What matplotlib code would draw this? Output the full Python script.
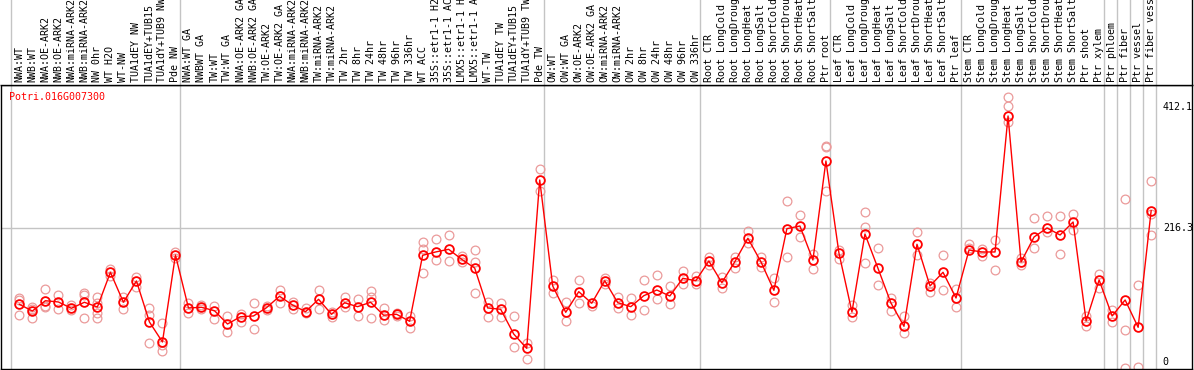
import matplotlib
matplotlib.use("Agg")
import matplotlib.pyplot as plt

gene = "Potri.016G007300"

labels = [
    "NWA:WT", "NWB:WT", "NWA:OE-ARK2", "NWB:OE-ARK2", "NWA:miRNA-ARK2", "NWB:miRNA-ARK2",
    "NW 0hr", "WT H2O", "WT-NW", "TUA1dEY NW", "TUA1dEY+TUB15", "TUA1dY+TUB9 NW", "Pde NW",
    "NWA:WT GA", "NWBWT GA", "TW:WT", "TW:WT GA", "NWA:OE-ARK2 GA", "NWB:OE-ARK2 GA",
    "TW:OE-ARK2", "TW:OE-ARK2 GA", "NWA:miRNA-ARK2", "NWB:miRNA-ARK2", "TW:miRNA-ARK2",
    "TW:miRNA-ARK2", "TW 2hr", "TW 8hr", "TW 24hr", "TW 48hr", "TW 96hr", "TW 336hr",
    "WT ACC", "35S::etr1-1 H2", "35S::etr1-1 AC", "LMX5::etr1-1 H", "LMX5::etr1-1 A",
    "WT-TW", "TUA1dEY TW", "TUA1dEY+TUB15", "TUA1dY+TUB9 TW", "Pde TW",
    "OW:WT", "OW:WT GA", "OW:OE-ARK2", "OW:OE-ARK2 GA", "OW:miRNA-ARK2", "OW:miRNA-ARK2",
    "OW 2hr", "OW 8hr", "OW 24hr", "OW 48hr", "OW 96hr", "OW 336hr",
    "Root CTR", "Root LongCold", "Root LongDroug", "Root LongHeat", "Root LongSalt",
    "Root ShortCold", "Root ShortDrou", "Root ShortHeat", "Root ShortSalt", "Ptr root",
    "Leaf CTR", "Leaf LongCold", "Leaf LongDroug", "Leaf LongHeat", "Leaf LongSalt",
    "Leaf ShortCold", "Leaf ShortDrou", "Leaf ShortHeat", "Leaf ShortSalt", "Ptr leaf",
    "Stem CTR", "Stem LongCold", "Stem LongDroug", "Stem LongHeat", "Stem LongSalt",
    "Stem ShortCold", "Stem ShortDrou", "Stem ShortHeat", "Stem ShortSalt", "Ptr shoot",
    "Ptr xylem", "Ptr phloem", "Ptr fiber", "Ptr vessel", "Ptr fiber vess",
]

means = [
    93.1, 82.3, 98.9, 96.9, 86.7, 96.4, 88.8, 144.8, 96.4, 130.8, 64.6, 32.3, 172.7,
    87.2, 88.3, 82.8, 61.3, 73.1, 74.3, 87.7, 106.1, 92.0, 81.2, 101.2, 77.0, 95.7,
    89.3, 96.4, 75.5, 77.0, 65.7, 172.2, 177.6, 181.9, 165.8, 151.7, 87.2, 85.1, 45.2,
    22.1, 293.8, 122.7, 80.2, 113.5, 94.8, 131.2, 95.7, 89.3, 107.0, 116.2, 106.5,
    135.1, 131.2, 163.0, 128.0, 161.9, 199.7, 161.9, 115.7, 215.2, 219.5, 164.6, 324.5,
    176.0, 80.7, 206.6, 151.3, 95.2, 57.6, 190.0, 122.7, 144.8, 103.3,
    180.8, 177.6, 177.6, 397.1, 161.4, 201.8, 216.3, 205.0, 226.0, 66.2,
    132.4, 74.3, 100.1, 56.0, 244.2,
]

replicates = [
    [102.8, 100.1, 75.9], [89.3, 85.6, 70.5], [117.4, 89.3, 90.9], [108.2, 86.0],
    [92.0, 83.9], [111.9, 108.2, 71.0], [104.4, 95.7, 78.6, 71.5], [150.1, 138.8],
    [104.4, 85.1], [137.7, 121.5], [87.7, 75.4, 30.2], [62.5, 27.4, 18.2], [178.0, 167.4],
    [94.8, 79.6], [92.0, 85.6], [90.4, 68.9], [74.3, 48.9], [77.5, 65.1], [94.8, 53.3],
    [90.9, 84.4], [116.2, 94.8], [97.3, 85.1], [86.7, 78.6], [116.2, 85.1], [81.2, 73.1],
    [104.4, 89.3], [101.2, 74.3], [115.1, 105.4, 71.5], [86.7, 67.8], [79.4, 74.3],
    [74.7, 55.4], [194.2, 182.4, 143.2], [198.1, 164.6], [204.5, 163.0], [171.1, 161.9],
    [180.8, 161.4, 110.9], [97.3, 72.2], [94.8, 72.2], [74.3, 24.7], [31.2, 4.4],
    [311.5, 276.0], [132.4, 110.9], [96.4, 65.7], [132.4, 95.7], [90.4], [135.6, 125.4],
    [105.4, 87.7], [102.8, 75.4], [132.4, 83.9], [140.4, 101.2], [122.7, 93.6],
    [146.9, 125.4], [138.8, 125.4], [170.0, 156.6], [137.7, 119.0], [170.0, 151.3],
    [211.5, 191.6], [170.0, 153.8], [135.1, 96.9], [259.9, 169.5], [236.8, 201.8],
    [174.3, 149.6], [348.7, 346.6, 276.0], [180.8, 165.8], [92.0, 73.1],
    [242.1, 217.9, 159.3], [183.5, 124.3], [102.8, 81.8], [74.3, 46.3], [209.4, 172.2],
    [128.0, 113.5], [172.2, 115.7], [117.4, 88.3],
    [190.5, 184.0], [182.4, 171.1], [196.9, 148.5], [427.8, 413.2, 387.4], [167.9, 156.6],
    [232.4, 184.0], [235.7, 209.8], [235.7, 174.3], [238.9, 213.1], [74.3, 58.1],
    [141.6, 119.0], [83.9, 65.1], [263.1, 51.7, -10.2], [124.3, -8.6], [292.2, 238.4, 205.0],
]

group_starts = [0, 13, 41, 53, 63, 73, 84, 85, 86, 87, 88]
tick_values = [412.1, 216.3, 0]

W, H = 1194, 370
fig = plt.figure(figsize=(W / 100, H / 100), dpi=100)
mono = "DejaVu Sans Mono"
fs = 7.2

# pixel layout
left, right = 1, 1192
top_plot, bottom_plot = 85, 369
ax = fig.add_axes([left / W, (H - bottom_plot) / H, (right - left) / W, (bottom_plot - top_plot) / H])
lab = fig.add_axes([left / W, (H - top_plot) / H, (right - left) / W, top_plot / H])

xlo, xhi = -1.41, 90.14
for a in (ax, lab):
    a.set_xlim(xlo, xhi)
    a.set_xticks([])
    a.set_yticks([])
    for s in a.spines.values():
        s.set_color("black")
        s.set_linewidth(1.0)
ax.set_ylim(-11.3, 447.1)
lab.set_ylim(0, 1)
lab.spines["left"].set_visible(False)
lab.spines["top"].set_visible(False)

for g in group_starts:
    ax.axvline(g - 0.65, color="#c4c4c4", lw=1.0, zorder=1)
    lab.axvline(g - 0.65, color="#c4c4c4", lw=1.0, zorder=1)

ax.plot([xlo, 87.5], [216.3, 216.3], color="#c4c4c4", lw=1.0, zorder=1)

x = list(range(len(labels)))
for i, reps in enumerate(replicates):
    ax.plot([i] * len(reps), reps, linestyle="none", marker="o", markersize=6.3,
            markerfacecolor="none", markeredgecolor="#eb9a9a", markeredgewidth=0.9, zorder=2)
ax.plot(x, means, color="red", lw=1.0, marker="o", markersize=6.3,
        markerfacecolor="none", markeredgecolor="red", markeredgewidth=1.3, zorder=3)

for t in tick_values:
    ax.text(87.9, t, str(t) if t else "0", fontsize=fs, family=mono, va="center", ha="left")

ax.text(8 / (right - left), 1 - 12 / (bottom_plot - top_plot), gene, color="red",
        fontsize=fs, family=mono, transform=ax.transAxes, va="center", ha="left")

# group labels above the plot
for i, name in enumerate(labels):
    lab.text(i, 0.03, name, rotation=90, fontsize=fs, family=mono,
             ha="center", va="bottom")

fig.savefig("out.png", dpi=100)
